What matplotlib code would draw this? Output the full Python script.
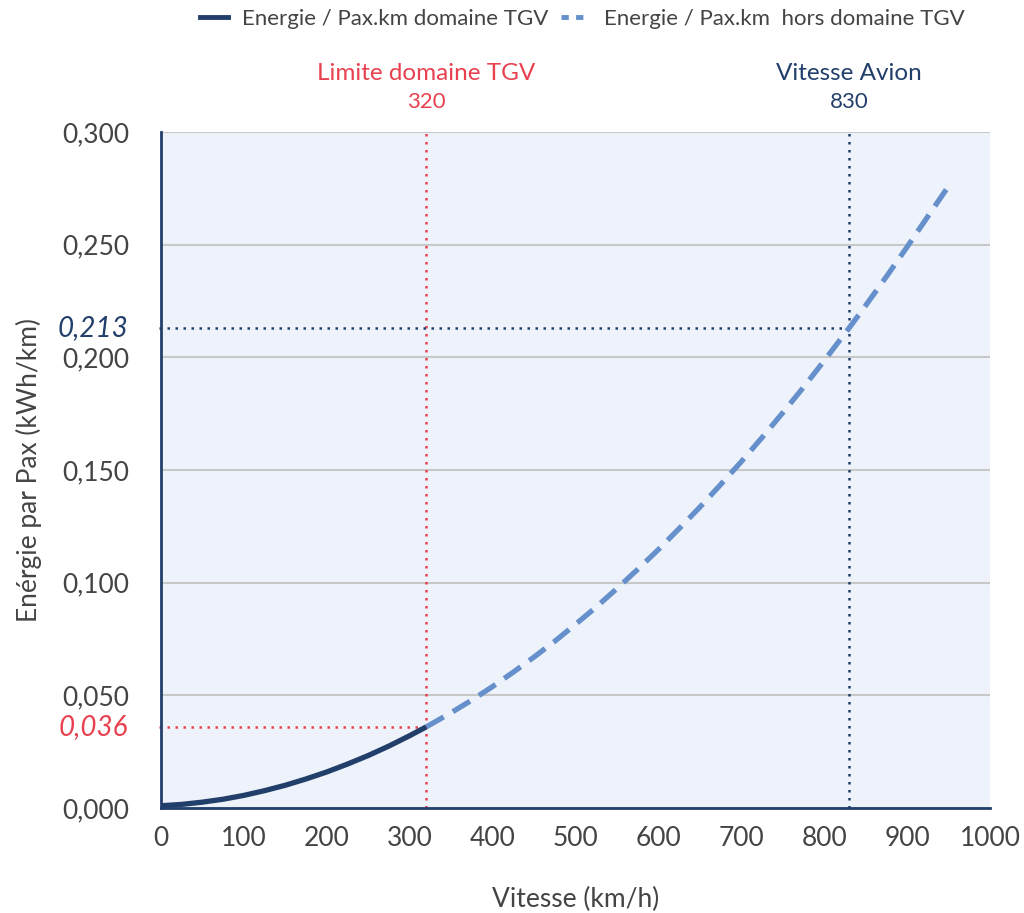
import matplotlib.pyplot as plt
import matplotlib.ticker as ticker
from matplotlib.lines import Line2D

plt.rcParams['font.family'] = ['Lato', 'DejaVu Sans']

# vitesse (km/h) et énergie par pax.km (kWh/km)
vitesse_tgv = [0, 25, 50, 75, 100, 125, 150, 175, 200, 225, 250, 275, 300,
               320]
energie_tgv = [0.001, 0.0016, 0.0026, 0.0039, 0.0056, 0.0077, 0.0101,
               0.0129, 0.0160, 0.0195, 0.0233, 0.0275, 0.0321, 0.036]
vitesse_hors = [320, 350, 375, 400, 425, 450, 475, 500, 525, 550, 575, 600,
                625, 650, 675, 700, 725, 750, 775, 800, 830, 850, 875, 900,
                925, 950]
energie_hors = [0.036, 0.0423, 0.0479, 0.0539, 0.0603, 0.0670, 0.0740,
                0.0815, 0.0892, 0.0974, 0.1059, 0.1147, 0.1240, 0.1335,
                0.1435, 0.1537, 0.1644, 0.1754, 0.1867, 0.1985, 0.213,
                0.223, 0.2358, 0.249, 0.2625, 0.276]

limite_tgv = 320
energie_limite = 0.036
vitesse_avion = 830
energie_avion = 0.213

navy = '#223f6b'
light = '#6590cc'
red = '#e8414f'
grey_txt = '#444444'
dots = (0, (1, 2.2))

fig = plt.figure(figsize=(10.24, 9.13), dpi=100)
ax = fig.add_axes([161 / 1024, 1 - 808 / 913, 829 / 1024, 676 / 913])
ax.set_facecolor('#eef2fa')

ax.set_xlim(0, 1000)
ax.set_ylim(0, 0.3)
ax.xaxis.set_major_locator(ticker.MultipleLocator(100))
ax.yaxis.set_major_locator(ticker.MultipleLocator(0.05))
ax.yaxis.set_major_formatter(
    ticker.FuncFormatter(lambda y, _: '{:.3f}'.format(y).replace('.', ',')))
ax.grid(axis='y', color='#c8c8c8', linewidth=1.5)
ax.set_axisbelow(True)
for s in ['top', 'right']:
    ax.spines[s].set_visible(False)
for s in ['left', 'bottom']:
    ax.spines[s].set_color(navy)
    ax.spines[s].set_linewidth(2)
ax.tick_params(length=0, labelsize=19, labelcolor=grey_txt)
ax.tick_params(axis='y', pad=23)
ax.tick_params(axis='x', pad=13)

# lignes de repère
ax.plot([limite_tgv, limite_tgv], [0, 0.3], ls=dots, color=red,
        lw=1.8, clip_on=False)
ax.plot([-2, limite_tgv], [energie_limite, energie_limite], ls=dots,
        color=red, lw=1.8, clip_on=False)
ax.plot([vitesse_avion, vitesse_avion], [0, 0.3], ls=dots,
        color=navy, lw=1.8, clip_on=False)
ax.plot([-2, vitesse_avion], [energie_avion, energie_avion], ls=dots,
        color=navy, lw=1.8, clip_on=False)

# courbes
ax.plot(vitesse_hors, energie_hors, color=light, lw=3.8, ls=(0, (3.8, 2)),
        solid_capstyle='butt', dash_capstyle='butt')
ax.plot(vitesse_tgv, energie_tgv, color=navy, lw=3.8, solid_capstyle='butt')

# valeurs particulières sur l'axe y
ax.text(-33 / 829, energie_avion, '0,213', transform=ax.get_yaxis_transform(),
        ha='right', va='center', color=navy, fontsize=20, style='italic')
ax.text(-33 / 829, energie_limite, '0,036',
        transform=ax.get_yaxis_transform(),
        ha='right', va='center', color=red, fontsize=20, style='italic')

# annotations au-dessus
trans = ax.get_xaxis_transform()
ax.text(limite_tgv, 1 + 59 / 676, 'Limite domaine TGV', transform=trans,
        ha='center', va='center', color=red, fontsize=17.5)
ax.text(limite_tgv, 1 + 30 / 676, str(limite_tgv), transform=trans,
        ha='center', va='center', color=red, fontsize=16)
ax.text(vitesse_avion, 1 + 59 / 676, 'Vitesse Avion', transform=trans,
        ha='center', va='center', color=navy, fontsize=17.5)
ax.text(vitesse_avion, 1 + 30 / 676, str(vitesse_avion), transform=trans,
        ha='center', va='center', color=navy, fontsize=16)

ax.set_xlabel('Vitesse (km/h)', fontsize=19, color=grey_txt, labelpad=26)
ax.set_ylabel('Enérgie par Pax (kWh/km)', fontsize=19, color=grey_txt,
              labelpad=14)

handles = [Line2D([], [], color=navy, lw=3.5),
           Line2D([], [], color=light, lw=3.5, ls=(0, (1.5, 1.5)))]
fig.legend(handles, ['Energie / Pax.km domaine TGV',
                     'Energie / Pax.km  hors domaine TGV'],
           loc='center', bbox_to_anchor=(582 / 1024, 1 - 19 / 913), ncol=2,
           frameon=False, fontsize=16, handlelength=1.3, columnspacing=0.6,
           handletextpad=0.6, labelcolor=grey_txt)

fig.savefig('out.png', dpi=100)
